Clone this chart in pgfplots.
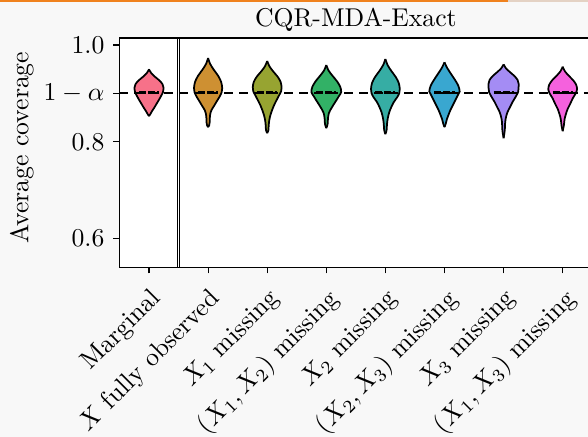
\documentclass[border=0pt]{standalone}
\usepackage{pgfplots}
\pgfplotsset{compat=1.18}
\usepackage{pgfplotstable}
\usepgfplotslibrary{fillbetween}

\definecolor{bg}{RGB}{248,248,248}
\definecolor{topbar}{RGB}{240,130,30}
\definecolor{topbarb}{RGB}{228,210,196}
\definecolor{c0}{HTML}{F77189}
\definecolor{c1}{HTML}{CE9032}
\definecolor{c2}{HTML}{97A431}
\definecolor{c3}{HTML}{32B166}
\definecolor{c4}{HTML}{36ADA4}
\definecolor{c5}{HTML}{39A7D0}
\definecolor{c6}{HTML}{A48CF4}
\definecolor{c7}{HTML}{F561DD}

% violin profiles: y = coverage, w = half width (category units)
\pgfplotstableread{
y w
0.9497 0
0.9420 0.0372
0.9341 0.1032
0.9265 0.1777
0.9186 0.2301
0.9109 0.2470
0.9026 0.2369
0.8943 0.2030
0.8861 0.1658
0.8778 0.1252
0.8695 0.0846
0.8633 0.0508
0.8570 0.0220
0.8529 0
}\vA
\pgfplotstableread{
y w
0.9731 0
0.9607 0.0355
0.9482 0.0998
0.9358 0.1726
0.9234 0.2217
0.9109 0.2386
0.9026 0.2301
0.8943 0.1997
0.8840 0.1489
0.8736 0.0981
0.8654 0.0575
0.8570 0.0355
0.8488 0.0288
0.8405 0.0271
0.8342 0.0186
0.8301 0
}\vB
\pgfplotstableread{
y w
0.9669 0
0.9561 0.0372
0.9453 0.1015
0.9346 0.1760
0.9238 0.2267
0.9130 0.2437
0.9047 0.2369
0.8964 0.2030
0.8861 0.1591
0.8757 0.1168
0.8654 0.0829
0.8550 0.0541
0.8446 0.0355
0.8342 0.0254
0.8239 0.0203
0.8177 0
}\vC
\pgfplotstableread{
y w
0.9586 0
0.9474 0.0372
0.9362 0.1066
0.9250 0.1810
0.9138 0.2352
0.9026 0.2521
0.8943 0.2132
0.8861 0.1726
0.8757 0.1184
0.8654 0.0677
0.8591 0.0440
0.8488 0.0288
0.8363 0.0220
0.8280 0
}\vD
\pgfplotstableread{
y w
0.9710 0
0.9586 0.0372
0.9462 0.1015
0.9337 0.1760
0.9213 0.2267
0.9089 0.2437
0.9006 0.2352
0.8923 0.2014
0.8819 0.1421
0.8715 0.0998
0.8612 0.0660
0.8487 0.0406
0.8363 0.0271
0.8239 0.0203
0.8156 0
}\vE
\pgfplotstableread{
y w
0.9642 0
0.9522 0.0474
0.9401 0.1117
0.9279 0.1777
0.9159 0.2335
0.9037 0.2572
0.8964 0.2267
0.8861 0.1844
0.8757 0.1421
0.8654 0.0998
0.8550 0.0660
0.8467 0.0406
0.8384 0.0237
0.8301 0
}\vF
\pgfplotstableread{
y w
0.9600 0
0.9520 0.0389
0.9437 0.1100
0.9356 0.1861
0.9273 0.2386
0.9192 0.2555
0.9109 0.2538
0.9026 0.2453
0.8923 0.2014
0.8819 0.1506
0.8715 0.1083
0.8612 0.0660
0.8508 0.0406
0.8405 0.0271
0.8239 0.0203
0.8073 0
}\vG
\pgfplotstableread{
y w
0.9551 0
0.9457 0.0372
0.9366 0.1015
0.9273 0.1760
0.9182 0.2267
0.9089 0.2437
0.9006 0.2234
0.8902 0.1726
0.8778 0.1252
0.8674 0.0829
0.8570 0.0541
0.8467 0.0321
0.8342 0.0203
0.8218 0
}\vH

\newcommand{\violin}[3]{%
  \addplot[draw=none, smooth, name path=R#1, forget plot] table[x expr=#1+\thisrow{w}, y=y] {#2};
  \addplot[draw=none, smooth, name path=L#1, forget plot] table[x expr=#1-\thisrow{w}, y=y] {#2};
  \addplot[fill=#3, draw=none, forget plot] fill between[of=R#1 and L#1];
  \addplot[black, line width=0.68pt, smooth, forget plot] table[x expr=#1+\thisrow{w}, y=y] {#2};
  \addplot[black, line width=0.68pt, smooth, forget plot] table[x expr=#1-\thisrow{w}, y=y] {#2};
  \addplot[black, line width=0.93pt, dash pattern=on 2.72pt off 0.78pt, forget plot] coordinates {(#1-0.17,0.9015) (#1+0.17,0.9015)};
}

\begin{document}
\pagecolor{bg}%
\raisebox{0pt}[0pt][170.04pt]{\makebox[228.79pt][l]{%
\begin{tikzpicture}[baseline=0pt, trim left=0pt, trim right=228.79pt]
\begin{axis}[
  at={(46.48pt,-14.79pt)}, anchor=north west,
  scale only axis, width=183.97pt, height=89.30pt,
  xmin=-0.5, xmax=7.5, ymin=0.5399, ymax=1.0145,
  axis background/.style={fill=white},
  axis line style={line width=0.55pt},
  tick style={black, line width=0.42pt},
  tick align=outside, major tick length=2.33pt,
  xtick pos=bottom, ytick pos=left,
  xtick={0,1,2,3,4,5,6,7},
  xticklabels={Marginal, $X$ fully observed, $X_1$ missing, {$(X_1,X_2)$ missing}, $X_2$ missing, {$(X_2,X_3)$ missing}, $X_3$ missing, {$(X_1,X_3)$ missing}},
  xticklabel style={yshift=-5pt, rotate=45, anchor=north east, inner sep=0pt},
  ytick={0.6,0.8,0.9,1.0},
  yticklabels={$0.6$,$0.8$,$1-\alpha$,$1.0$},
  ylabel={Average coverage},
  ylabel style={at={(axis description cs:-0.2067,0.5229)}, anchor=center},
  title={CQR-MDA-Exact},
  title style={at={(0.5,1)}, anchor=base, yshift=-1.72pt},
  clip=true,
]
\violin{0}{\vA}{c0}
\violin{1}{\vB}{c1}
\violin{2}{\vC}{c2}
\violin{3}{\vD}{c3}
\violin{4}{\vE}{c4}
\violin{5}{\vF}{c5}
\violin{6}{\vG}{c6}
\violin{7}{\vH}{c7}
\addplot[black, line width=0.78pt, dash pattern=on 3.5pt off 2.33pt, forget plot] coordinates {(-0.5,0.9) (7.5,0.9)};
\addplot[black, line width=0.33pt, forget plot] coordinates {(0.478,0.5399) (0.478,1.0145)};
\addplot[black, line width=0.33pt, forget plot] coordinates {(0.522,0.5399) (0.522,1.0145)};
\end{axis}
\fill[topbar] (0,0) rectangle (197.67pt,-0.78pt);
\fill[topbarb] (197.67pt,0) rectangle (228.79pt,-0.78pt);
\pgfresetboundingbox
\path[use as bounding box] (0,0) rectangle (228.79pt,-170.04pt);
\end{tikzpicture}}}
\end{document}
